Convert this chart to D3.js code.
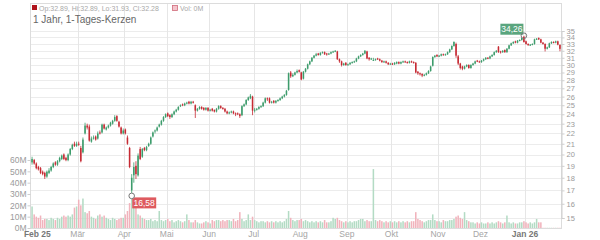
<!DOCTYPE html>
<html>
<head>
<meta charset="utf-8">
<script src="https://cdn.jsdelivr.net/npm/d3@7"></script>
<style>
body { margin:0; background:#fff; }
svg text { font-family:"Liberation Sans", Arial, sans-serif; }
</style>
</head>
<body>
<svg id="chart"></svg>
<script>

var monthLabels = ["Feb 25","Mär","Apr","Mai","Jun","Jul","Aug","Sep","Okt","Nov","Dez","Jan 26"]
var monthStarts = [3,22,44,64,84,105,127,149,170,192,212,233]

var priceTicks = [15,16,17,18,19,20,21,22,23,24,25,26,27,28,29,30,31,32,33,34,35]
var volumeTicks = [0,10,20,30,40,50,60]

var opens = [
 19.3,19.5,19.2,18.9,18.8,18.5,18.4,18.1,18.4,18.6,
 18.9,19.3,19.1,19.4,19.6,20.0,19.7,19.5,20.0,20.5,
 21.0,20.8,21.0,20.6,20.2,22.0,22.8,22.7,21.2,21.5,
 21.7,21.5,22.1,22.1,22.9,22.4,22.6,22.8,23.0,23.3,
 23.8,23.2,22.6,22.0,22.4,21.6,20.6,17.0,18.2,19.0,
 18.2,20.5,19.8,20.6,20.4,20.8,21.0,21.7,22.2,22.3,
 22.7,22.9,23.3,23.7,24.1,23.9,23.7,24.0,24.3,24.5,
 24.9,25.1,25.0,25.2,25.4,25.2,25.4,25.0,24.4,24.6,
 24.8,24.7,24.5,24.7,24.4,24.6,24.5,24.3,24.6,24.9,
 24.7,24.6,24.3,24.1,24.2,24.3,24.1,24.1,24.0,23.9,
 24.9,25.1,25.6,25.8,26.0,24.4,24.5,24.6,24.8,24.9,
 25.3,25.8,25.8,25.3,25.5,25.3,25.5,25.6,25.8,26.0,
 26.2,26.8,29.0,28.5,28.7,29.0,29.3,29.0,28.2,29.1,
 29.5,30.1,30.5,31.0,31.3,31.6,31.4,31.7,31.8,31.6,
 31.5,31.6,31.8,31.9,31.9,30.8,30.5,30.0,30.3,30.0,
 30.1,30.3,30.4,30.5,30.9,31.2,31.4,31.6,31.9,31.0,
 30.8,30.6,30.7,30.9,30.8,30.6,30.4,30.5,30.3,30.1,
 30.2,30.1,30.2,30.4,30.2,30.4,30.5,30.4,30.3,30.5,
 30.4,30.3,29.1,28.9,28.8,28.6,28.7,28.9,29.2,29.9,
 31.1,31.4,31.2,31.3,31.5,31.4,31.5,31.8,32.2,32.7,
 33.0,31.2,30.2,29.8,29.5,29.8,30.0,29.6,30.0,30.2,
 30.6,30.5,30.4,30.6,30.8,31.0,30.9,31.2,31.4,31.8,
 32.6,31.9,31.8,32.1,31.8,32.3,32.8,33.1,33.4,33.2,
 33.5,33.6,34.1,33.4,33.0,32.8,32.9,33.0,33.7,33.9,
 33.7,33.2,33.0,32.3,32.5,33.1,33.3,33.2,33.4,32.89
]

var highs = [
 19.8,19.6,19.3,19.0,18.9,18.6,18.5,18.6,18.8,19.0,
 19.3,19.4,19.5,19.8,20.0,20.1,19.8,20.1,20.6,21.0,
 21.2,21.2,21.2,20.8,21.6,23.1,23.0,22.9,21.7,21.8,
 21.8,22.2,22.3,23.0,23.0,22.7,22.9,23.2,23.4,23.9,
 23.9,23.3,22.7,22.5,22.5,21.8,20.7,18.3,19.3,19.4,
 20.1,20.7,20.6,20.7,20.8,21.1,21.7,22.2,22.4,22.7,
 23.0,23.4,23.8,24.1,24.2,24.0,24.1,24.4,24.6,24.9,
 25.1,25.2,25.3,25.4,25.5,25.5,25.5,25.1,24.7,24.9,
 24.9,24.8,24.8,24.8,24.6,24.7,24.5,24.7,25.0,25.0,
 24.8,24.7,24.4,24.3,24.4,24.4,24.2,24.2,24.1,25.0,
 25.2,25.7,26.0,26.3,26.1,24.7,24.7,24.9,25.0,25.4,
 25.9,25.9,25.9,25.5,25.6,25.6,25.7,25.9,26.1,26.3,
 26.8,29.0,29.2,28.9,29.1,29.4,29.4,29.1,29.2,29.6,
 30.2,30.6,31.1,31.4,31.7,31.7,31.8,31.9,31.9,31.7,
 31.7,31.9,32.0,32.1,32.0,30.9,30.6,30.3,30.4,30.2,
 30.4,30.5,30.6,31.0,31.3,31.5,31.7,32.1,32.0,31.1,
 31.0,31.0,30.9,31.0,30.9,30.7,30.6,30.6,30.4,30.3,
 30.3,30.4,30.5,30.5,30.5,30.6,30.6,30.5,30.6,30.6,
 30.5,30.4,29.2,29.0,28.9,28.8,29.0,29.3,29.9,31.2,
 31.4,31.5,31.4,31.6,31.6,31.6,31.9,32.3,32.8,33.4,
 33.2,31.4,30.3,29.9,29.9,30.1,30.1,30.1,30.3,30.6,
 30.7,30.6,30.7,30.9,31.1,31.1,31.3,31.5,31.9,32.1,
 32.7,32.0,32.1,32.2,32.4,32.9,33.2,33.4,33.5,33.6,
 33.7,34.0,34.26,33.5,33.1,33.0,33.1,33.8,33.9,34.0,
 33.8,33.3,33.1,32.6,33.2,33.4,33.4,33.5,33.5,32.89
]

var lows = [
 19.1,19.1,18.7,18.6,18.3,18.2,17.9,18.0,18.3,18.5,
 18.8,19.0,19.0,19.3,19.5,19.5,19.4,19.4,19.9,20.4,
 20.7,20.7,20.8,19.3,20.1,21.9,22.4,21.2,21.1,21.4,
 21.3,21.4,21.9,22.0,22.4,22.3,22.5,22.7,22.9,23.2,
 23.2,22.6,21.9,21.9,21.9,20.9,18.8,16.58,17.6,17.9,
 18.1,19.5,19.7,20.3,20.3,20.7,20.9,21.6,22.0,22.2,
 22.6,22.8,23.2,23.6,23.7,23.5,23.6,23.9,24.2,24.4,
 24.8,24.9,24.9,25.1,25.1,25.1,25.2,23.6,24.3,24.5,
 24.5,24.4,24.4,24.3,24.3,24.3,24.2,24.2,24.5,24.6,
 24.5,24.2,24.0,24.0,24.1,24.0,23.8,23.9,23.6,23.8,
 24.8,25.0,25.5,25.7,23.9,24.2,24.4,24.5,24.7,24.8,
 25.2,25.5,25.2,25.2,25.2,25.2,25.4,25.5,25.7,25.9,
 26.1,26.7,28.3,28.4,28.6,28.9,29.0,28.0,28.1,29.0,
 29.4,30.0,30.4,30.9,31.2,31.3,31.3,31.6,31.4,31.3,
 31.4,31.5,31.7,31.8,30.7,30.3,29.8,29.9,29.9,29.9,
 30.0,30.2,30.3,30.4,30.8,31.1,31.3,31.5,30.8,30.6,
 30.7,30.6,30.6,30.7,30.5,30.3,30.3,30.2,30.0,30.0,
 30.0,30.0,30.1,30.1,30.1,30.3,30.3,30.2,30.2,30.3,
 30.2,28.9,28.7,28.6,28.4,28.5,28.6,28.8,29.1,29.8,
 31.0,31.1,31.1,31.2,31.3,31.3,31.4,31.7,32.1,32.6,
 31.0,30.0,29.4,29.3,29.4,29.7,29.5,29.5,29.9,30.1,
 30.4,30.3,30.3,30.5,30.7,30.8,30.8,31.1,31.3,31.7,
 31.7,31.6,31.7,31.7,31.7,32.2,32.7,33.0,33.1,33.1,
 33.4,33.5,33.2,32.9,32.7,32.7,32.8,32.9,33.6,33.6,
 33.1,32.9,31.9,32.2,32.4,33.0,33.1,33.1,32.8,31.93
]

var closes = [
 19.6,19.2,18.8,18.7,18.4,18.3,18.1,18.5,18.6,18.9,
 19.2,19.1,19.4,19.7,19.9,19.6,19.5,20.0,20.5,20.9,
 20.8,21.0,20.9,19.4,21.4,22.8,22.6,21.3,21.5,21.6,
 21.4,22.0,22.0,22.9,22.5,22.6,22.8,23.1,23.3,23.7,
 23.3,22.7,22.0,22.3,22.0,21.0,18.9,18.0,18.9,18.3,
 19.9,19.6,20.5,20.4,20.7,21.0,21.6,22.1,22.3,22.6,
 22.9,23.3,23.7,24.0,23.8,23.7,24.0,24.3,24.5,24.8,
 25.0,25.0,25.2,25.3,25.2,25.4,25.3,24.4,24.6,24.8,
 24.6,24.5,24.7,24.4,24.5,24.4,24.3,24.6,24.9,24.7,
 24.6,24.3,24.1,24.2,24.3,24.1,24.0,24.0,23.8,24.9,
 25.1,25.6,25.9,26.1,24.4,24.5,24.6,24.8,24.9,25.3,
 25.8,25.7,25.3,25.4,25.3,25.5,25.6,25.8,26.0,26.2,
 26.7,28.9,28.5,28.7,29.0,29.2,29.1,28.1,29.1,29.5,
 30.1,30.5,31.0,31.3,31.5,31.4,31.7,31.8,31.5,31.5,
 31.6,31.8,31.9,32.0,30.8,30.5,30.0,30.2,30.0,30.1,
 30.3,30.4,30.5,30.9,31.2,31.4,31.6,32.0,30.9,30.8,
 30.9,30.7,30.8,30.8,30.6,30.4,30.5,30.3,30.1,30.2,
 30.1,30.3,30.4,30.2,30.4,30.5,30.4,30.3,30.5,30.4,
 30.3,29.0,28.9,28.8,28.6,28.7,28.9,29.2,29.8,31.1,
 31.3,31.2,31.3,31.5,31.4,31.5,31.8,32.2,32.7,33.3,
 31.3,30.2,29.6,29.5,29.8,30.0,29.6,30.0,30.2,30.5,
 30.5,30.4,30.6,30.8,31.0,30.9,31.2,31.4,31.8,32.0,
 31.8,31.8,32.0,31.8,32.3,32.8,33.1,33.3,33.2,33.5,
 33.6,33.9,33.3,33.0,32.9,32.9,33.0,33.7,33.8,33.7,
 33.2,33.0,32.3,32.5,33.1,33.3,33.2,33.4,32.9,32.28
]

// volume in millions
var volumes = [
 19,12,10,9,11,7,8,8,7,9,
 8,7,9,8,10,11,10,11,10,12,
 18,19,25,20,26,14,13,15,10,9,
 8,11,12,10,11,9,8,7,9,8,
 7,8,9,9,12,15,22,26,19,18,
 12,11,9,8,7,7,8,6,7,6,
 15,7,6,7,8,6,7,5,6,7,
 6,5,6,12,7,5,5,7,5,4,
 4,5,6,5,4,7,6,7,7,6,
 7,6,7,7,6,8,6,7,14,8,
 6,7,12,7,10,7,6,5,6,6,
 5,6,5,6,5,6,5,6,5,6,
 8,15,9,7,6,7,7,8,6,7,
 6,5,6,5,6,5,6,5,7,5,
 5,6,9,8,9,7,6,5,6,5,
 6,5,6,6,7,8,8,6,7,6,
 6,52,7,6,7,6,5,6,5,6,
 5,6,5,6,5,6,5,6,5,6,
 6,14,8,7,6,5,6,7,7,12,
 7,6,6,5,7,6,6,7,7,8,
 10,11,9,8,14,7,6,5,5,4,
 5,4,5,4,4,5,4,5,4,5,
 6,5,4,5,11,5,4,5,4,4,
 5,5,6,5,4,5,4,5,8,5,
 5,0.2,0.2,0.2,0.2,0.2,0.2,0.2,0.2,0.2
]

var upColor = "#3d9c6c"
var downColor = "#c62a33"
var upVolColor = "#b3dbc4"
var downVolColor = "#f1b3bc"

var initChart = function()
{
    var screen = {width:600, height:240}
    var margins = {left:30, right:39, top:3, bottom:12}
    var graph =
        {
            left: margins.left,
            right: screen.width - margins.right,
            top: margins.top,
            bottom: screen.height - margins.bottom
        }

    var svg = d3.select("#chart")
        .attr("width", screen.width)
        .attr("height", screen.height)

    var n = closes.length
    var idx = d3.range(n)

    var xScale = d3.scaleLinear()
        .domain([0, n])
        .range([graph.left + 1, graph.right])

    var yScale = d3.scaleLog()
        .domain([15, 35])
        .range([218, 31])

    var volScale = d3.scaleLinear()
        .domain([0, 60])
        .range([graph.bottom, 160])

    drawGrid(svg, graph, xScale, yScale)
    drawVolume(svg.append("g"), idx, xScale, volScale)
    drawCandles(svg.append("g"), idx, xScale, yScale)
    drawAxes(svg, graph, xScale, yScale, volScale)
    drawMarkers(svg, idx, xScale, yScale)
    drawHeader(svg, graph)
}

var drawGrid = function(svg, graph, xScale, yScale)
{
    var grid = svg.append("g")

    grid.selectAll(".hline")
        .data(priceTicks)
        .enter()
        .append("line")
        .attr("x1", graph.left)
        .attr("x2", graph.right)
        .attr("y1", function(d) { return Math.round(yScale(d)) + 0.5 })
        .attr("y2", function(d) { return Math.round(yScale(d)) + 0.5 })
        .attr("stroke", "#ececec")

    grid.selectAll(".vline")
        .data(monthStarts.slice(1))
        .enter()
        .append("line")
        .attr("x1", function(d) { return Math.round(xScale(d)) + 0.5 })
        .attr("x2", function(d) { return Math.round(xScale(d)) + 0.5 })
        .attr("y1", graph.top)
        .attr("y2", graph.bottom)
        .attr("stroke", "#e6e6e6")

    // frame
    grid.append("rect")
        .attr("x", graph.left + 0.5)
        .attr("y", graph.top + 0.5)
        .attr("width", graph.right - graph.left)
        .attr("height", graph.bottom - graph.top)
        .attr("fill", "none")
        .attr("stroke", "#dcdcdc")
}

var drawVolume = function(target, idx, xScale, volScale)
{
    var step = xScale(1) - xScale(0)
    target.selectAll("rect")
        .data(idx)
        .enter()
        .append("rect")
        .attr("x", function(i) { return xScale(i + 0.5) - step * 0.36 })
        .attr("width", step * 0.72)
        .attr("y", function(i) { return volScale(volumes[i]) })
        .attr("height", function(i) { return volScale(0) - volScale(volumes[i]) })
        .attr("fill", function(i) { return closes[i] >= opens[i] ? upVolColor : downVolColor })
}

var drawCandles = function(target, idx, xScale, yScale)
{
    var step = xScale(1) - xScale(0)
    var color = function(i) { return closes[i] >= opens[i] ? upColor : downColor }

    target.selectAll("line")
        .data(idx)
        .enter()
        .append("line")
        .attr("x1", function(i) { return xScale(i + 0.5) })
        .attr("x2", function(i) { return xScale(i + 0.5) })
        .attr("y1", function(i) { return yScale(highs[i]) })
        .attr("y2", function(i) { return yScale(lows[i]) })
        .attr("stroke", color)
        .attr("stroke-width", 0.8)

    target.selectAll("rect")
        .data(idx)
        .enter()
        .append("rect")
        .attr("x", function(i) { return xScale(i + 0.5) - step * 0.36 })
        .attr("width", step * 0.72)
        .attr("y", function(i) { return yScale(Math.max(opens[i], closes[i])) })
        .attr("height", function(i)
              {
                var h = yScale(Math.min(opens[i], closes[i])) - yScale(Math.max(opens[i], closes[i]))
                return Math.max(h, 1)
              })
        .attr("fill", color)
}

var drawAxes = function(svg, graph, xScale, yScale, volScale)
{
    var priceAxis = d3.axisRight(yScale)
        .tickValues(priceTicks)
        .tickFormat(d3.format("d"))
        .tickSize(3)
        .tickPadding(2)

    var right = svg.append("g")
        .attr("transform", "translate(" + (graph.right + 0.5) + ",0)")
        .call(priceAxis)
    right.select(".domain").attr("stroke", "#cfcfcf")
    right.selectAll(".tick line").attr("stroke", "#cfcfcf")
    right.selectAll("text")
        .attr("fill", "#9a9a9a")
        .style("font-size", "7.5px")

    var volAxis = d3.axisLeft(volScale)
        .tickValues(volumeTicks)
        .tickFormat(function(d) { return d + "M" })
        .tickSize(3)
        .tickPadding(1)

    var left = svg.append("g")
        .attr("transform", "translate(" + (graph.left + 0.5) + ",0)")
        .call(volAxis)
    left.select(".domain").remove()
    left.selectAll(".tick line").attr("stroke", "#cfcfcf")
    left.selectAll("text")
        .attr("fill", "#9a9a9a")
        .style("font-size", "8.5px")

    svg.append("g")
        .selectAll("text")
        .data(monthLabels)
        .enter()
        .append("text")
        .text(function(d) { return d })
        .attr("x", function(d, i) { return xScale(monthStarts[i]) })
        .attr("y", graph.bottom + 9)
        .attr("text-anchor", "middle")
        .attr("fill", function(d) { return d.indexOf(" ") > 0 ? "#777" : "#a5a5a5" })
        .style("font-weight", function(d) { return d.indexOf(" ") > 0 ? "bold" : "normal" })
        .style("font-size", "8.5px")
}

var drawMarkers = function(svg, idx, xScale, yScale)
{
    var lowI = d3.minIndex(lows)
    var highI = d3.maxIndex(highs)
    var fmt = function(v) { return v.toFixed(2).replace(".", ",") }
    var g = svg.append("g")

    var lx = xScale(lowI + 0.5), ly = yScale(lows[lowI])
    g.append("rect")
        .attr("x", lx + 0.5).attr("y", ly + 1.5)
        .attr("width", 24).attr("height", 11)
        .attr("fill", "#de5a5f")
    g.append("text")
        .text(fmt(lows[lowI]))
        .attr("x", lx + 12.5).attr("y", ly + 10.5)
        .attr("text-anchor", "middle")
        .attr("fill", "#fff")
        .style("font-size", "8.5px")
    g.append("circle")
        .attr("cx", lx).attr("cy", ly).attr("r", 2.8)
        .attr("fill", "#fff").attr("stroke", "#777")

    var hx = xScale(highI + 0.5), hy = yScale(highs[highI])
    g.append("rect")
        .attr("x", hx - 23.5).attr("y", hy - 12)
        .attr("width", 23).attr("height", 11)
        .attr("fill", "#5aa57e")
    g.append("text")
        .text(fmt(highs[highI]))
        .attr("x", hx - 12).attr("y", hy - 3.5)
        .attr("text-anchor", "middle")
        .attr("fill", "#fff")
        .style("font-size", "8.5px")
    g.append("circle")
        .attr("cx", hx).attr("cy", hy).attr("r", 2.8)
        .attr("fill", "none").attr("stroke", "#777")
}

var drawHeader = function(svg, graph)
{
    var last = closes.length - 1
    var f = function(v) { return v.toFixed(2) }
    var head = svg.append("g")

    head.append("rect")
        .attr("x", 32).attr("y", 5)
        .attr("width", 5).attr("height", 5)
        .attr("fill", "#b0141c")
    head.append("text")
        .text("Op:" + f(opens[last]) + ", Hi:" + f(highs[last]) + ", Lo:" + f(lows[last]) + ", Cl:" + f(closes[last]))
        .attr("x", 39).attr("y", 10.5)
        .attr("fill", "#a8a8a8")
        .style("font-size", "7px")

    head.append("rect")
        .attr("x", 172.5).attr("y", 5.5)
        .attr("width", 5).attr("height", 5)
        .attr("fill", "#f4c4cc")
        .attr("stroke", "#d06b7b")
        .attr("stroke-width", 0.8)
    head.append("text")
        .text("Vol: " + Math.round(volumes[last]) + "M")
        .attr("x", 180).attr("y", 10.5)
        .attr("fill", "#a8a8a8")
        .style("font-size", "7px")

    head.append("text")
        .text("1 Jahr, 1-Tages-Kerzen")
        .attr("x", 33).attr("y", 23)
        .attr("fill", "#666")
        .style("font-size", "10px")
}

initChart()

</script>
</body>
</html>
